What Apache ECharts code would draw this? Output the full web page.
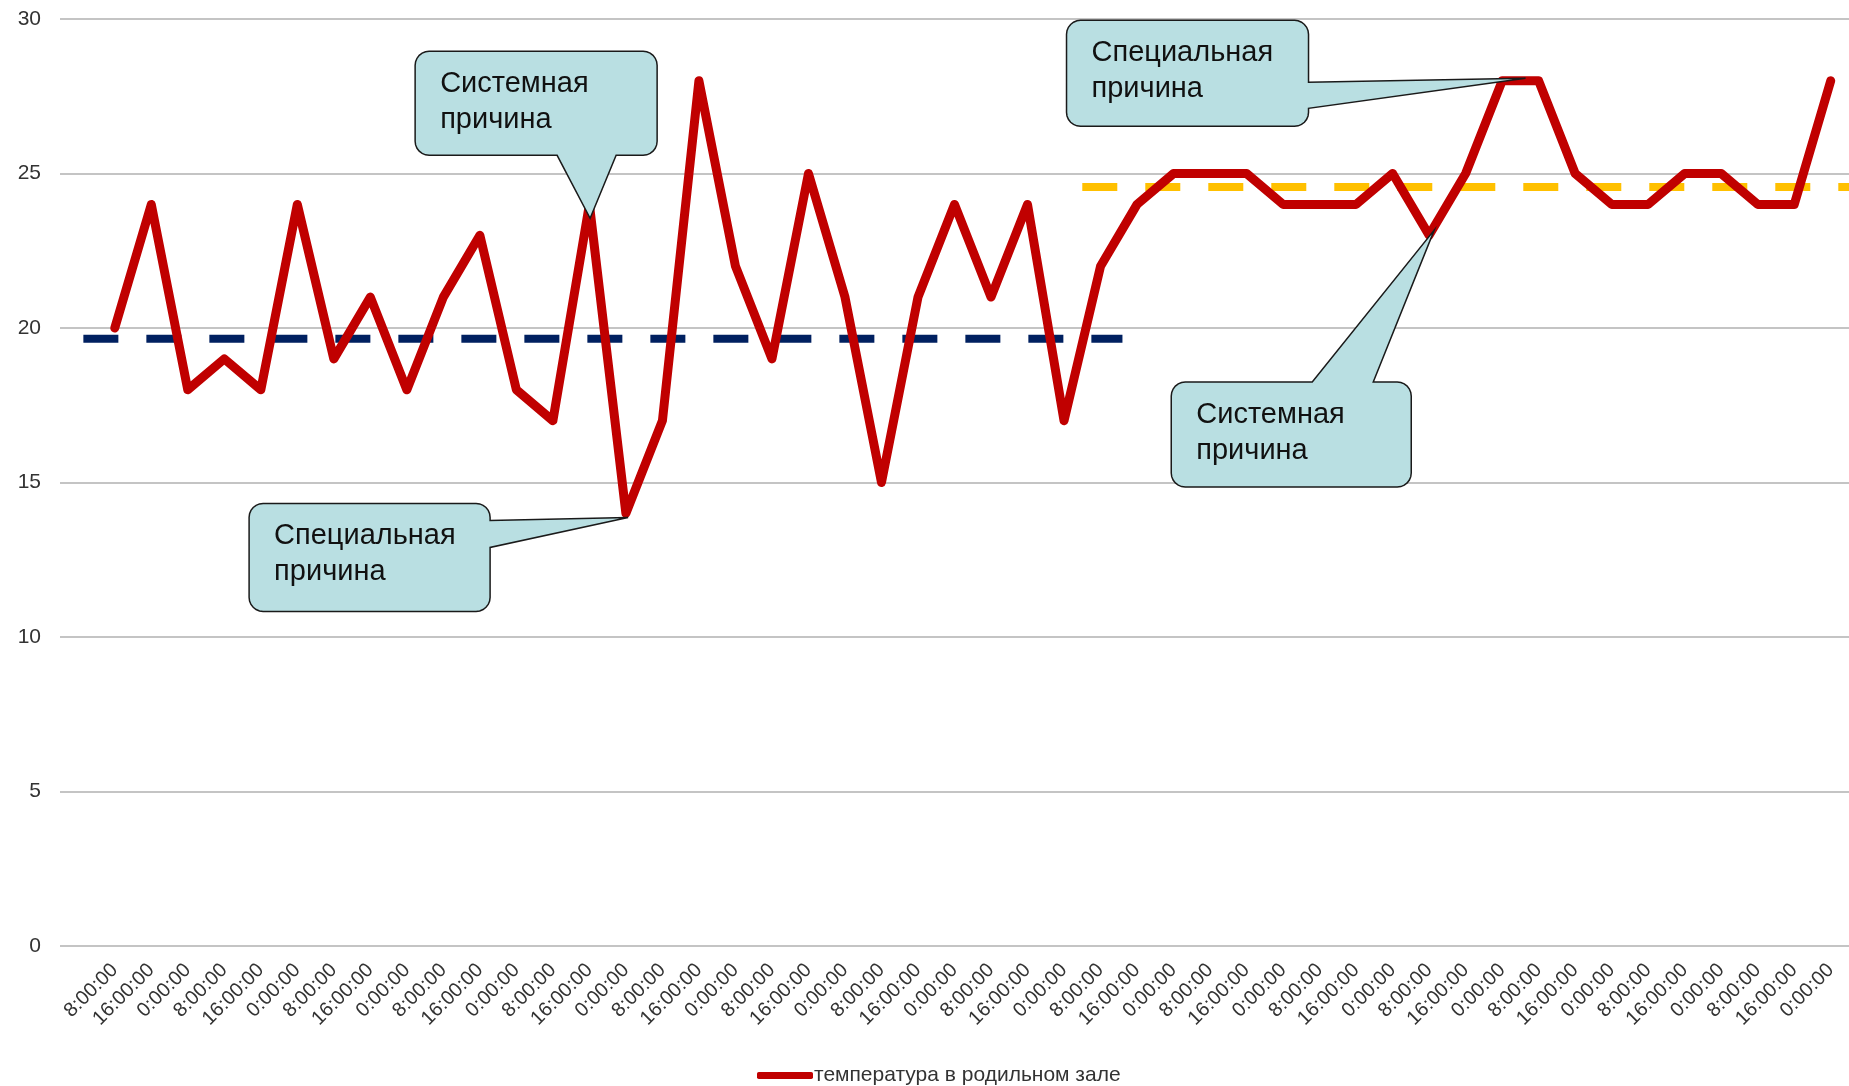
<!DOCTYPE html>
<html>
<head>
<meta charset="utf-8">
<script src="https://cdn.jsdelivr.net/npm/echarts@6/dist/echarts.min.js"></script>
<style>
html, body { margin: 0; padding: 0; background: #fff; }
#chart { width: 1849px; height: 1086px; }
</style>
</head>
<body>
<div id="chart"></div>
<script>
// x categories: the first slot is empty in the source sheet
var timeLabels = ['',
    '8:00:00', '16:00:00', '0:00:00', '8:00:00', '16:00:00', '0:00:00',
    '8:00:00', '16:00:00', '0:00:00', '8:00:00', '16:00:00', '0:00:00',
    '8:00:00', '16:00:00', '0:00:00', '8:00:00', '16:00:00', '0:00:00',
    '8:00:00', '16:00:00', '0:00:00', '8:00:00', '16:00:00', '0:00:00',
    '8:00:00', '16:00:00', '0:00:00', '8:00:00', '16:00:00', '0:00:00',
    '8:00:00', '16:00:00', '0:00:00', '8:00:00', '16:00:00', '0:00:00',
    '8:00:00', '16:00:00', '0:00:00', '8:00:00', '16:00:00', '0:00:00',
    '8:00:00', '16:00:00', '0:00:00', '8:00:00', '16:00:00', '0:00:00'];

var temperature = [null,
    20, 24, 18, 19, 18, 24, 19, 21, 18, 21, 23, 18,
    17, 24, 14, 17, 28, 22, 19, 25, 21, 15, 21, 24,
    21, 24, 17, 22, 24, 25, 25, 25, 24, 24, 24, 25,
    23, 25, 28, 28, 25, 24, 24, 25, 25, 24, 24, 28];

// mean lines: level and span along the category axis
var systemMean = 19.65;
var systemSpan = [0.14, 28.6];
var shiftMean = 24.56;
var shiftSpan = [27.5, 48.5];

// callouts: text and the point the pointer touches [category, value]
var calloutTexts = ['Системная\nпричина', 'Специальная\nпричина', 'Специальная\nпричина', 'Системная\nпричина'];
var calloutTips = [[14.02, 23.55], [15.06, 13.87], [39.64, 28.08], [37.14, 23.17]];

// callout box layout relative to the tip (pixels)
var calloutBoxes = [
    {dx: -175, dy: -167, w: 242, h: 104, side: 'bottom', a: 142, b: 201},
    {dx: -379, dy: -14, w: 241, h: 108, side: 'right', a: 17, b: 44},
    {dx: -459, dy: -58, w: 242, h: 106, side: 'right', a: 62, b: 88},
    {dx: -263, dy: 152, w: 240, h: 105, side: 'top', a: 141, b: 202}
];

var FONT = '"Liberation Sans", Arial, sans-serif';
var seriesName = 'температура в родильном зале';

var myChart = echarts.init(document.getElementById('chart'));

myChart.setOption({
    animation: false,
    backgroundColor: '#fff',
    grid: { left: 60, right: 0, top: 19, bottom: 140 },
    legend: {
        data: [seriesName],
        left: 752,
        top: 1060,
        icon: 'roundRect',
        itemWidth: 56,
        itemHeight: 7,
        textStyle: { fontFamily: FONT, fontSize: 21, color: '#333', padding: [0, 0, 0, -4] }
    },
    xAxis: [
        {
            type: 'category',
            data: timeLabels,
            boundaryGap: true,
            axisLine: { show: false },
            axisTick: { show: false },
            splitLine: { show: false },
            axisLabel: {
                interval: 0,
                rotate: 45,
                margin: 21,
                fontFamily: FONT,
                fontSize: 20,
                color: '#333'
            }
        },
        {
            type: 'value',
            min: -0.5,
            max: 48.5,
            show: false
        }
    ],
    yAxis: {
        type: 'value',
        min: 0,
        max: 30,
        interval: 5,
        axisLine: { show: false },
        axisTick: { show: false },
        axisLabel: { margin: 19, fontFamily: FONT, fontSize: 21, color: '#333' },
        splitLine: { lineStyle: { color: '#c4c4c4', width: 2 } }
    },
    series: [
        {
            name: seriesName,
            type: 'line',
            data: temperature,
            symbol: 'none',
            z: 3,
            lineStyle: { color: '#c00000', width: 9, join: 'round', cap: 'round' },
            itemStyle: { color: '#c00000' }
        },
        {
            name: 'system',
            type: 'line',
            xAxisIndex: 1,
            data: [[systemSpan[0], systemMean], [systemSpan[1], systemMean]],
            symbol: 'none',
            silent: true,
            z: 2,
            lineStyle: { color: '#002060', width: 8, type: [35, 28], cap: 'butt' }
        },
        {
            name: 'shift',
            type: 'line',
            xAxisIndex: 1,
            data: [[shiftSpan[0], shiftMean], [shiftSpan[1], shiftMean]],
            symbol: 'none',
            silent: true,
            z: 2,
            lineStyle: { color: '#ffc000', width: 8, type: [35, 28], cap: 'butt' }
        }
    ]
});

// rounded box with a pointer on one side
function bubblePoints(x, y, w, h, r, side, a, b, tip) {
    var pts = [];
    function arc(cx, cy, a0) {
        for (var i = 0; i <= 6; i++) {
            var t = a0 + i * Math.PI / 12;
            pts.push([cx + r * Math.cos(t), cy + r * Math.sin(t)]);
        }
    }
    arc(x + r, y + r, Math.PI);
    if (side === 'top') pts.push([x + a, y], tip, [x + b, y]);
    arc(x + w - r, y + r, -Math.PI / 2);
    if (side === 'right') pts.push([x + w, y + a], tip, [x + w, y + b]);
    arc(x + w - r, y + h - r, 0);
    if (side === 'bottom') pts.push([x + b, y + h], tip, [x + a, y + h]);
    arc(x + r, y + h - r, Math.PI / 2);
    return pts;
}

var graphics = [];
calloutTips.forEach(function (t, i) {
    var tip = myChart.convertToPixel({seriesIndex: 1}, t);
    var box = calloutBoxes[i];
    var bx = tip[0] + box.dx, by = tip[1] + box.dy;
    graphics.push({
        type: 'polygon',
        z: 100,
        silent: true,
        shape: { points: bubblePoints(bx, by, box.w, box.h, 14, box.side, box.a, box.b, tip) },
        style: { fill: '#b9dfe2', stroke: '#1a1a1a', lineWidth: 1.5 }
    });
    graphics.push({
        type: 'text',
        z: 101,
        silent: true,
        x: bx + 25,
        y: by + 15,
        style: {
            text: calloutTexts[i],
            fontFamily: FONT,
            fontSize: 29,
            lineHeight: 36,
            fill: '#111',
            verticalAlign: 'top'
        }
    });
});
myChart.setOption({ graphic: graphics });
</script>
</body>
</html>
